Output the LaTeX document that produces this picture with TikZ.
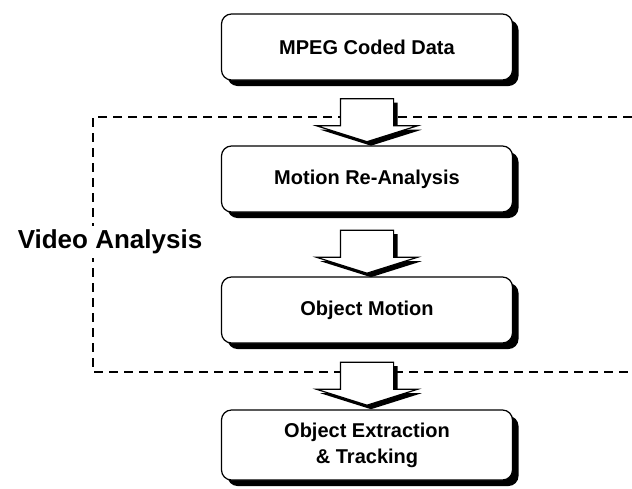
\documentclass[tikz,border=0pt]{standalone}
\usepackage{fontspec}
\setmainfont{Liberation Sans}
\usetikzlibrary{arrows.meta,positioning,calc,shapes.arrows,shadows}

\begin{document}
\begin{tikzpicture}[x=0.5pt, y=-0.5pt,
  stage/.style={draw, line width=0.6pt, fill=white, rounded corners=5pt, minimum width=145.5pt, minimum height=33pt, align=center, font=\fontsize{10}{13}\selectfont\bfseries,
    drop shadow={shadow xshift=3pt, shadow yshift=-3pt, fill=black, opacity=1}},
  flowarrow/.style={single arrow, draw, line width=0.6pt, fill=white, shape border rotate=270, inner xsep=13pt, inner ysep=0pt, minimum width=50pt, minimum height=21.5pt, single arrow head extend=12pt, single arrow tip angle=145,
    drop shadow={shadow xshift=2pt, shadow yshift=-2pt, fill=black, opacity=1}},
  region/.style={dashed, line width=1.2pt, dash pattern=on 4.5pt off 3pt}]
  \useasboundingbox (0,0) rectangle (632,488);

  % analysis region, open on the right
  \draw[region] (632,117) -- (93,117) -- (93,372) -- (632,372);
  \node[fill=white, inner sep=2pt, font=\fontsize{13}{15}\selectfont\bfseries] (lbl) at (110,242) {Video Analysis};

  \node[stage] (mpeg) at (367,47) {MPEG Coded Data};
  \node[stage] (reana) at (367,179) {Motion Re-Analysis};
  \node[stage] (objmot) at (367,310) {Object Motion};
  \node[stage, minimum height=35pt] (track) at (367,445) {Object Extraction\\\& Tracking};

  \node[flowarrow] (a1) at ($(mpeg.south)!0.5!(reana.north)+(0,3)$) {};
  \node[flowarrow] (a2) at ($(reana.south)!0.5!(objmot.north)+(0,3)$) {};
  \node[flowarrow] (a3) at ($(objmot.south)!0.5!(track.north)+(0,3)$) {};
\end{tikzpicture}
\end{document}
